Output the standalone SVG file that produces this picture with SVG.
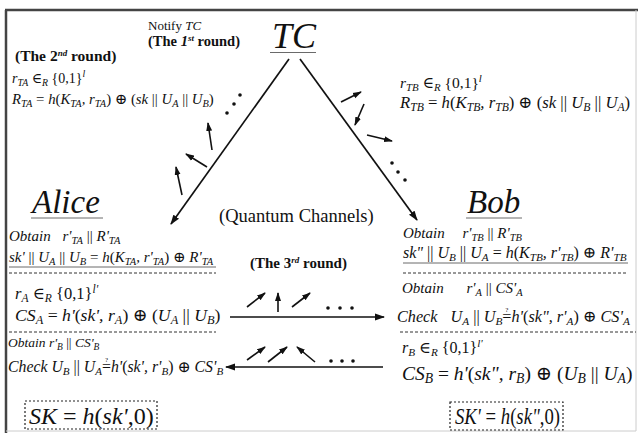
<svg xmlns="http://www.w3.org/2000/svg" width="638" height="433" viewBox="0 0 638 433">
<style>
text { font-family: "Liberation Serif", "Times New Roman", Times, "DejaVu Serif", serif; fill: #111; }
.i { font-style: italic; }
.n { font-style: normal; }
.b { font-weight: bold; }
.sb { font-size: 70%; }
.q { font-size: 7px; font-style: normal; }
.ln { stroke: #111; stroke-width: 1.7; fill: none; }
.sm { stroke: #111; stroke-width: 1.6; fill: none; }
.dash { stroke: #333; stroke-width: 1; stroke-dasharray: 3 2; fill: none; }
.ul { stroke: #444; stroke-width: 0.8; fill: none; }
.box { stroke: #222; stroke-width: 1.2; stroke-dasharray: 2 2; fill: none; }
.dot { fill: #111; }
</style>
<defs>
<marker id="ah" markerUnits="userSpaceOnUse" markerWidth="10" markerHeight="8" refX="9" refY="4" orient="auto">
<path d="M0,0.5 L10,4 L0,7.5 z" fill="#111"/>
</marker>
<marker id="as" markerUnits="userSpaceOnUse" markerWidth="9" markerHeight="7" refX="8" refY="3.5" orient="auto">
<path d="M0,0.5 L9,3.5 L0,6.5 z" fill="#111"/>
</marker>
</defs>
<rect x="0" y="0" width="638" height="433" fill="#fff"/>
<g id="frame">
<line x1="5" y1="10" x2="638" y2="10" stroke="#444" stroke-width="2.5"/>
<line x1="6" y1="10" x2="6" y2="433" stroke="#444" stroke-width="2.5"/>
<line x1="636" y1="10" x2="636" y2="431" stroke="#ccc" stroke-width="1"/>
<line x1="6" y1="431" x2="636" y2="431" stroke="#ccc" stroke-width="1"/>
</g>

<g id="labels">
<text x="148" y="30" font-size="13">Notify <tspan class="i">TC</tspan></text>
<text x="148" y="46" font-size="14.5" class="b">(The <tspan class="i">1</tspan><tspan dy="-5" font-size="9" class="i">st</tspan><tspan dy="5"> round)</tspan></text>
<text x="15" y="61" font-size="15.5" class="b">(The 2<tspan dy="-5" font-size="9" class="i">nd</tspan><tspan dy="5"> round)</tspan></text>
<text x="12" y="83" font-size="14" class="i">r<tspan class="sb" dy="3">TA</tspan><tspan dy="-3" class="n"> ∈</tspan><tspan class="sb" dy="3">R</tspan><tspan dy="-3" class="n"> {0,1}</tspan><tspan class="sb" dy="-6">l</tspan></text>
<text x="12" y="104" font-size="14.8" class="i">R<tspan class="sb" dy="3">TA</tspan><tspan dy="-3" class="n"> = </tspan>h<tspan class="n">(</tspan>K<tspan class="sb" dy="3">TA</tspan><tspan dy="-3">, r</tspan><tspan class="sb" dy="3">TA</tspan><tspan dy="-3" class="n">) ⊕ (</tspan>sk<tspan class="n"> || </tspan>U<tspan class="sb" dy="3">A</tspan><tspan dy="-3" class="n"> || </tspan>U<tspan class="sb" dy="3">B</tspan><tspan dy="-3" class="n">)</tspan></text>
<text x="400" y="88" font-size="15.5" class="i">r<tspan class="sb" dy="3">TB</tspan><tspan dy="-3" class="n"> ∈</tspan><tspan class="sb" dy="3">R</tspan><tspan dy="-3" class="n"> {0,1}</tspan><tspan class="sb" dy="-6">l</tspan></text>
<text x="400" y="108" font-size="16.7" class="i">R<tspan class="sb" dy="3">TB</tspan><tspan dy="-3" class="n"> = </tspan>h<tspan class="n">(</tspan>K<tspan class="sb" dy="3">TB</tspan><tspan dy="-3">, r</tspan><tspan class="sb" dy="3">TB</tspan><tspan dy="-3" class="n">) ⊕ (</tspan>sk<tspan class="n"> || </tspan>U<tspan class="sb" dy="3">B</tspan><tspan dy="-3" class="n"> || </tspan>U<tspan class="sb" dy="3">A</tspan><tspan dy="-3" class="n">)</tspan></text>
<text x="219" y="222" font-size="18.5">(Quantum Channels)</text>
<text x="250" y="268" font-size="15" class="b">(The 3<tspan dy="-5" font-size="9" class="i">rd</tspan><tspan dy="5"> round)</tspan></text>
</g>

<g id="TC">
<text x="272" y="48" font-size="36" class="i">TC</text>
<line class="ul" x1="270" y1="52.5" x2="316" y2="52.5" stroke-width="1.5"/>
</g>

<g id="Alice">
<text x="32" y="213" font-size="33" class="i">Alice</text>
<line class="ul" x1="31" y1="218" x2="103" y2="218" stroke-width="1.5"/>
<text x="9" y="241" font-size="15" class="i">Obtain <tspan dx="8">r'</tspan><tspan class="sb" dy="3">TA</tspan><tspan dy="-3" class="n"> || </tspan>R'<tspan class="sb" dy="3">TA</tspan></text>
<text x="9" y="262" font-size="15" class="i">sk'<tspan class="n"> || </tspan>U<tspan class="sb" dy="3">A</tspan><tspan dy="-3" class="n"> || </tspan>U<tspan class="sb" dy="3">B</tspan><tspan dy="-3" class="n"> = </tspan>h<tspan class="n">(</tspan>K<tspan class="sb" dy="3">TA</tspan><tspan dy="-3">, r'</tspan><tspan class="sb" dy="3">TA</tspan><tspan dy="-3" class="n">) ⊕ </tspan>R'<tspan class="sb" dy="3">TA</tspan></text>
<line class="ul" x1="9" y1="267" x2="216" y2="267"/>
<line class="dash" x1="9" y1="273" x2="216" y2="273"/>
<text x="15" y="299" font-size="16.5" class="i">r<tspan class="sb" dy="2.5">A</tspan><tspan dy="-2.5" class="n"> ∈</tspan><tspan class="sb" dy="2.5">R</tspan><tspan dy="-2.5" class="n"> {0,1}</tspan><tspan class="sb" dy="-6">l'</tspan></text>
<text x="15" y="321" font-size="17.7" class="i">CS<tspan class="sb" dy="3">A</tspan><tspan dy="-3" class="n"> = </tspan>h'<tspan class="n">(</tspan>sk', r<tspan class="sb" dy="3">A</tspan><tspan dy="-3" class="n">) ⊕ (</tspan>U<tspan class="sb" dy="3">A</tspan><tspan dy="-3" class="n"> || </tspan>U<tspan class="sb" dy="3">B</tspan><tspan dy="-3" class="n">)</tspan></text>
<line class="dash" x1="9" y1="332" x2="216" y2="332"/>
<text x="8" y="347" font-size="13.5" class="i">Obtain r'<tspan class="sb" dy="3">B</tspan><tspan dy="-3" class="n"> || </tspan>CS'<tspan class="sb" dy="3">B</tspan></text>
<text x="8" y="372" font-size="15.8" class="i">Check U<tspan class="sb" dy="3">B</tspan><tspan dy="-3" class="n"> || </tspan>U<tspan class="sb" dy="3">A</tspan><tspan dy="-3" class="n">=</tspan><tspan class="q" dx="-6" dy="-10">?</tspan><tspan dx="2.9" dy="10">h'</tspan><tspan class="n">(</tspan>sk', r'<tspan class="sb" dy="3">B</tspan><tspan dy="-3" class="n">) ⊕ </tspan>CS'<tspan class="sb" dy="3">B</tspan></text>
<rect class="box" x="25" y="401" width="132" height="28"/>
<text x="29" y="424" font-size="24" class="i">SK<tspan class="n"> = </tspan>h<tspan class="n">(</tspan>sk'<tspan class="n">,0)</tspan></text>
</g>

<g id="Bob">
<text x="467" y="213" font-size="33" class="i">Bob</text>
<line class="ul" x1="466" y1="218" x2="522" y2="218" stroke-width="1.5"/>
<text x="403" y="238" font-size="15" class="i">Obtain <tspan dx="14">r'</tspan><tspan class="sb" dy="3">TB</tspan><tspan dy="-3" class="n"> || </tspan>R'<tspan class="sb" dy="3">TB</tspan></text>
<text x="403" y="258" font-size="16" class="i">sk"<tspan class="n"> || </tspan>U<tspan class="sb" dy="3">B</tspan><tspan dy="-3" class="n"> || </tspan>U<tspan class="sb" dy="3">A</tspan><tspan dy="-3" class="n"> = </tspan>h<tspan class="n">(</tspan>K<tspan class="sb" dy="3">TB</tspan><tspan dy="-3">, r'</tspan><tspan class="sb" dy="3">TB</tspan><tspan dy="-3" class="n">) ⊕ </tspan>R'<tspan class="sb" dy="3">TB</tspan></text>
<line class="ul" x1="403" y1="263" x2="628" y2="263"/>
<line class="dash" x1="403" y1="273" x2="628" y2="273"/>
<text x="402" y="293" font-size="15" class="i">Obtain <tspan dx="19">r'</tspan><tspan class="sb" dy="3">A</tspan><tspan dy="-3" class="n"> || </tspan>CS'<tspan class="sb" dy="3">A</tspan></text>
<text x="397" y="322" font-size="16.2" class="i">Check <tspan dx="9">U</tspan><tspan class="sb" dy="3">A</tspan><tspan dy="-3" class="n"> || </tspan>U<tspan class="sb" dy="3">B</tspan><tspan dy="-3" class="n">=</tspan><tspan class="q" dx="-6.1" dy="-10">?</tspan><tspan dx="3" dy="10">h'</tspan><tspan class="n">(</tspan>sk", r'<tspan class="sb" dy="3">A</tspan><tspan dy="-3" class="n">) ⊕ </tspan>CS'<tspan class="sb" dy="3">A</tspan></text>
<line class="dash" x1="400" y1="332" x2="636" y2="332"/>
<text x="402" y="353" font-size="16" class="i">r<tspan class="sb" dy="3">B</tspan><tspan dy="-3" class="n"> ∈</tspan><tspan class="sb" dy="3">R</tspan><tspan dy="-3" class="n"> {0,1}</tspan><tspan class="sb" dy="-6">l'</tspan></text>
<text x="402" y="380" font-size="19.5" class="i">CS<tspan class="sb" dy="3">B</tspan><tspan dy="-3" class="n"> = </tspan>h'<tspan class="n">(</tspan>sk", r<tspan class="sb" dy="3">B</tspan><tspan dy="-3" class="n">) ⊕ (</tspan>U<tspan class="sb" dy="3">B</tspan><tspan dy="-3" class="n"> || </tspan>U<tspan class="sb" dy="3">A</tspan><tspan dy="-3" class="n">)</tspan></text>
<rect class="box" x="450" y="402" width="113" height="28"/>
<text transform="translate(455,424) scale(0.78,1)" x="0" y="0" font-size="24" class="i">SK'<tspan class="n"> = </tspan>h<tspan class="n">(</tspan>sk"<tspan class="n">,0)</tspan></text>
</g>

<g id="connectors">
<line class="ln" x1="289" y1="59" x2="171" y2="224" marker-end="url(#ah)"/>
<line class="ln" x1="300" y1="59" x2="417" y2="220" marker-end="url(#ah)"/>
<line class="ln" x1="230" y1="317" x2="384" y2="317" marker-end="url(#ah)"/>
<line class="ln" x1="383" y1="367" x2="226" y2="367" marker-end="url(#ah)"/>
<line class="sm" x1="212" y1="150" x2="208" y2="123" marker-end="url(#as)"/>
<line class="sm" x1="207" y1="167" x2="186" y2="154" marker-end="url(#as)"/>
<line class="sm" x1="182" y1="195" x2="176" y2="167" marker-end="url(#as)"/>
<line class="sm" x1="341" y1="102" x2="361" y2="92" marker-end="url(#as)"/>
<line class="sm" x1="364" y1="104" x2="355" y2="125" marker-end="url(#as)"/>
<line class="sm" x1="367" y1="135" x2="392" y2="141" marker-end="url(#as)"/>
<line class="sm" x1="247" y1="307" x2="265" y2="293" marker-end="url(#as)"/>
<line class="sm" x1="278" y1="312" x2="278" y2="293" marker-end="url(#as)"/>
<line class="sm" x1="292" y1="307" x2="310" y2="293" marker-end="url(#as)"/>
<line class="sm" x1="247" y1="360" x2="265" y2="347" marker-end="url(#as)"/>
<line class="sm" x1="268" y1="362" x2="287" y2="347" marker-end="url(#as)"/>
<line class="sm" x1="315" y1="362" x2="297" y2="347" marker-end="url(#as)"/>
<circle class="dot" cx="227" cy="113" r="1.8"/>
<circle class="dot" cx="234" cy="104" r="1.8"/>
<circle class="dot" cx="240" cy="95" r="1.8"/>
<circle class="dot" cx="392" cy="163" r="1.8"/>
<circle class="dot" cx="398" cy="172" r="1.8"/>
<circle class="dot" cx="405" cy="180" r="1.8"/>
<circle class="dot" cx="328" cy="308" r="1.8"/>
<circle class="dot" cx="340" cy="308" r="1.8"/>
<circle class="dot" cx="352" cy="308" r="1.8"/>
<circle class="dot" cx="331" cy="361" r="1.8"/>
<circle class="dot" cx="342" cy="361" r="1.8"/>
<circle class="dot" cx="353" cy="361" r="1.8"/>
</g>
</svg>
